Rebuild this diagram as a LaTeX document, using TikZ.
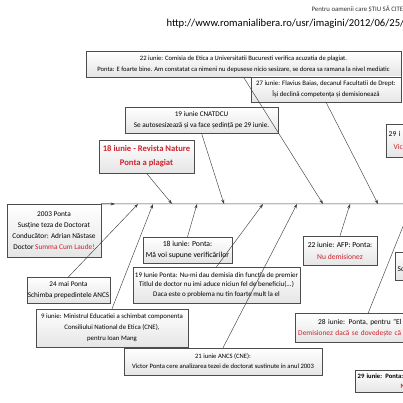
\documentclass[tikz,border=0pt]{standalone}
\usepackage{fontspec}
\setmainfont{Carlito}
\usetikzlibrary{arrows.meta,shadows}
\definecolor{pontared}{RGB}{205,35,45}
\newcommand{\evsize}[2]{\fontsize{#1}{#2}\selectfont}
\tikzset{
  evbox/.style={draw=gray!60!black, line width=0.4pt, top color=white, bottom color=gray!20,
    drop shadow={shadow xshift=0.8pt, shadow yshift=-0.8pt, opacity=0.25}, inner sep=1pt, align=center},
  link/.style={draw=black!75, line width=0.45pt, -{Stealth[length=4.5pt,width=3pt]}},
}

\begin{document}
\begin{tikzpicture}[x=1pt,y=-1pt]
\useasboundingbox (0,0) rectangle (403,403);
% Header
\node[anchor=west, font=\evsize{6.8}{8}, text=black!80] (hdr) at (308,9) {Pentru oamenii care ȘTIU SĂ CITE};
\node[anchor=west, font=\evsize{10.6}{12}] (url) at (163,24) {http://www.romanialibera.ro/usr/imagini/2012/06/25/};

% Events above the spine
\node[evbox, minimum width=315pt, minimum height=26pt, font=\evsize{6.6}{11}] (comisia) at (243.5,64) {22 iunie: Comisia de Etica a Universitatii Bucuresti verifica acuzatia de plagiat.\\Ponta: E foarte bine. Am constatat ca nimeni nu depusese nicio sesizare, se dorea sa ramana la nivel mediatic};
\node[evbox, minimum width=150pt, minimum height=25pt, font=\evsize{6.8}{10.5}] (flavius) at (326,89.5) {27 iunie: Flavius Baias, decanul Facultatii de Drept:\\Își declină competența și demisionează};
\node[evbox, minimum width=153pt, minimum height=26pt, font=\evsize{7.2}{10.5}] (cnatdcu) at (201.5,120) {19 iunie CNATDCU\\Se autosesizează și va face ședință pe 29 iunie.};
\node[evbox, minimum width=95pt, minimum height=33pt, font=\bfseries\evsize{8.6}{14}, text=pontared] (nature) at (146.5,156.5) {18 iunie - Revista Nature\\Ponta a plagiat};
\node[evbox, anchor=north west, minimum width=64pt, minimum height=33pt, text width=60pt, inner xsep=2.5pt, align=left, font=\evsize{7.5}{13}] (vic) at (386,124) {29 i\\\hspace*{5pt}\textcolor{pontared}{Vic}};

% Events below the spine
\node[evbox, minimum width=94pt, minimum height=53pt, font=\evsize{7.3}{11}] (y2003) at (54,230.5) {2003 Ponta\\Susține teza de Doctorat\\Conducător: Adrian Năstase\\Doctor \textcolor{pontared}{Summa Cum Laude!}};
\node[evbox, minimum width=89pt, minimum height=26pt, font=\evsize{7.7}{11}] (ponta18) at (187.5,250) {18 iunie: Ponta:\\Mă voi supune verificărilor};
\node[evbox, minimum width=74pt, minimum height=29pt, font=\evsize{7.6}{12}] (afp) at (340,250.5) {22 iunie: AFP: Ponta:\\\textcolor{pontared}{Nu demisionez}};
\node[evbox, anchor=north west, minimum width=45pt, minimum height=28pt, text width=40pt, inner xsep=2pt, align=left, font=\evsize{7.4}{10}] (sc) at (395,252) {\mbox{}\\Sc};
\node[evbox, minimum width=83pt, minimum height=26pt, font=\evsize{7.2}{11}] (mai24) at (68.5,290) {24 mai Ponta\\Schimba prepedintele ANCS};
\node[evbox, minimum width=167pt, minimum height=36pt, font=\evsize{7}{9.8}] (ponta19) at (216.5,285) {19 Iunie Ponta: Nu-mi dau demisia din functia de premier\\Titlul de doctor nu imi aduce niciun fel de beneficiu(...)\\Daca este o problema nu tin foarte mult la el};
\node[evbox, minimum width=152pt, minimum height=38pt, font=\evsize{6.8}{11}] (iunie9) at (112,328) {9 iunie: Ministrul Educatiei a schimbat componenta\\Consiliului National de Etica (CNE),\\pentru Ioan Mang};
\node[evbox, anchor=north west, minimum width=146pt, minimum height=29pt, text width=140pt, inner xsep=2pt, align=left, font=\evsize{7.4}{11}] (iunie28) at (295,313) {\hspace*{20pt}28 iunie: Ponta, pentru "El\\\textcolor{pontared}{Demisionez dacă se dovedește că}};
\node[evbox, minimum width=198pt, minimum height=27pt, font=\evsize{6.6}{10}] (ancs21) at (223,361.5) {21 iunie ANCS (CNE):\\Victor Ponta cere analizarea tezei de doctorat sustinute in anul 2003};
\node[evbox, anchor=north west, minimum width=85pt, minimum height=22pt, text width=80pt, inner xsep=2pt, align=left, font=\bfseries\evsize{6.6}{10}] (iunie29) at (355,370) {29 iunie: Ponta:\\\hspace*{43pt}\textcolor{pontared}{N}};

% Spine
\coordinate (s0) at (115,204);
\coordinate (spineend) at (410,204);
\draw[draw=black!75, line width=0.5pt] (y2003.north east) -- (spineend);
\draw[link] (y2003.north east) -- (s0);

% Points on the spine
\coordinate (tnature) at (172,204);
\coordinate (tcnatdcu) at (224,204);
\coordinate (tcomisia) at (323,204);
\coordinate (tflavius) at (378,204);
\coordinate (tmai24) at (138,204);
\coordinate (tiunie9) at (153,204);
\coordinate (tponta18) at (197,204);
\coordinate (tponta19) at (263,204);
\coordinate (tancs21) at (297,204);
\coordinate (tafp) at (350,204);
\coordinate (tiunie28) at (412,204);

% Connectors
\draw[link] (nature.south) -- (tnature);
\draw[link] (cnatdcu.south) -- (tcnatdcu);
\draw[link] (comisia.south) -- (tcomisia);
\draw[link] (flavius.south) -- (tflavius);
\draw[link] (mai24.north) -- (tmai24);
\draw[link] (iunie9.north) -- (tiunie9);
\draw[link] (ponta18.north) -- (tponta18);
\draw[link] (ponta19.north) -- (tponta19);
\draw[link] (ancs21.north) -- (tancs21);
\draw[link] (afp.north) -- (tafp);
\draw[link] (iunie28.north) -- (tiunie28);
\end{tikzpicture}
\end{document}
